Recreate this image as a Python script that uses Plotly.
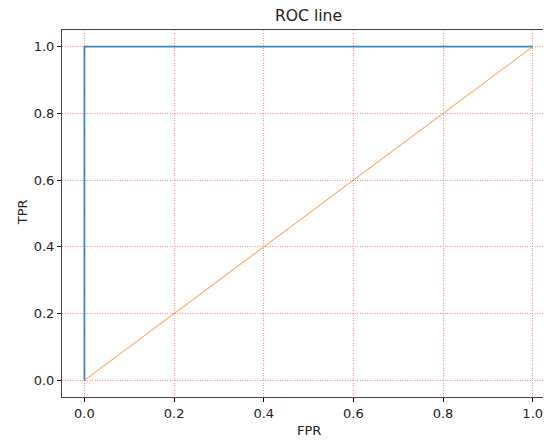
import plotly.graph_objects as go

fpr = [0.0, 0.0, 1.0]
tpr = [0.0, 1.0, 1.0]
diag_x = [0.0, 1.0]
diag_y = [0.0, 1.0]
tick_vals = [0.0, 0.2, 0.4, 0.6, 0.8, 1.0]
tick_text = ["0.0", "0.2", "0.4", "0.6", "0.8", "1.0"]

# page body offset (8px) is compensated: figure coords = screen coords - 8
OFF = 8
W, H = 551 - OFF, 441 - OFF
L = 61.6 - OFF
T = 30 - OFF
B = H - (397.4 - OFF)

fig = go.Figure()
fig.add_trace(go.Scatter(x=fpr, y=tpr, mode="lines",
                         line=dict(color="rgba(31,119,180,0.85)", width=1.8), showlegend=False))
fig.add_trace(go.Scatter(x=diag_x, y=diag_y, mode="lines",
                         line=dict(color="rgba(255,127,14,0.7)", width=1.1), showlegend=False))

axis_style = dict(showgrid=True, gridcolor="rgba(255,0,0,0.4)", griddash="1px,1.5px", gridwidth=1,
                  zeroline=False, ticks="outside", ticklen=4, tickwidth=1, tickcolor="black",
                  tickvals=tick_vals, ticktext=tick_text,
                  tickfont=dict(family="DejaVu Sans", size=13, color="#222"),
                  showline=True, linecolor="#444", linewidth=1.1, automargin=False)

fig.update_xaxes(range=[-0.05, 1.0408], mirror=True, **axis_style)
fig.update_yaxes(range=[-0.05, 1.05], mirror=False, **axis_style)

font = dict(family="DejaVu Sans", size=13, color="#222")
pw = W - L
ph = H - T - B


def px(x):
    return (x - OFF - L) / pw


def py(y):
    return ((H - (y - OFF)) - B) / ph


fig.update_layout(
    width=W, height=H,
    margin=dict(l=L, r=0, t=T, b=B, pad=0, autoexpand=False),
    plot_bgcolor="white", paper_bgcolor="white",
    annotations=[
        dict(text="ROC line", x=px(308), y=py(16), xref="paper", yref="paper", showarrow=False,
             xanchor="center", yanchor="middle",
             font=dict(family="DejaVu Sans", size=15.6, color="#222")),
        dict(text="FPR", x=px(309), y=py(431), xref="paper", yref="paper", showarrow=False,
             xanchor="center", yanchor="middle", font=font),
        dict(text="TPR", x=px(22), y=py(212), xref="paper", yref="paper", textangle=-90,
             showarrow=False, xanchor="center", yanchor="middle", font=font),
    ],
)

fig.write_html("out.html")
